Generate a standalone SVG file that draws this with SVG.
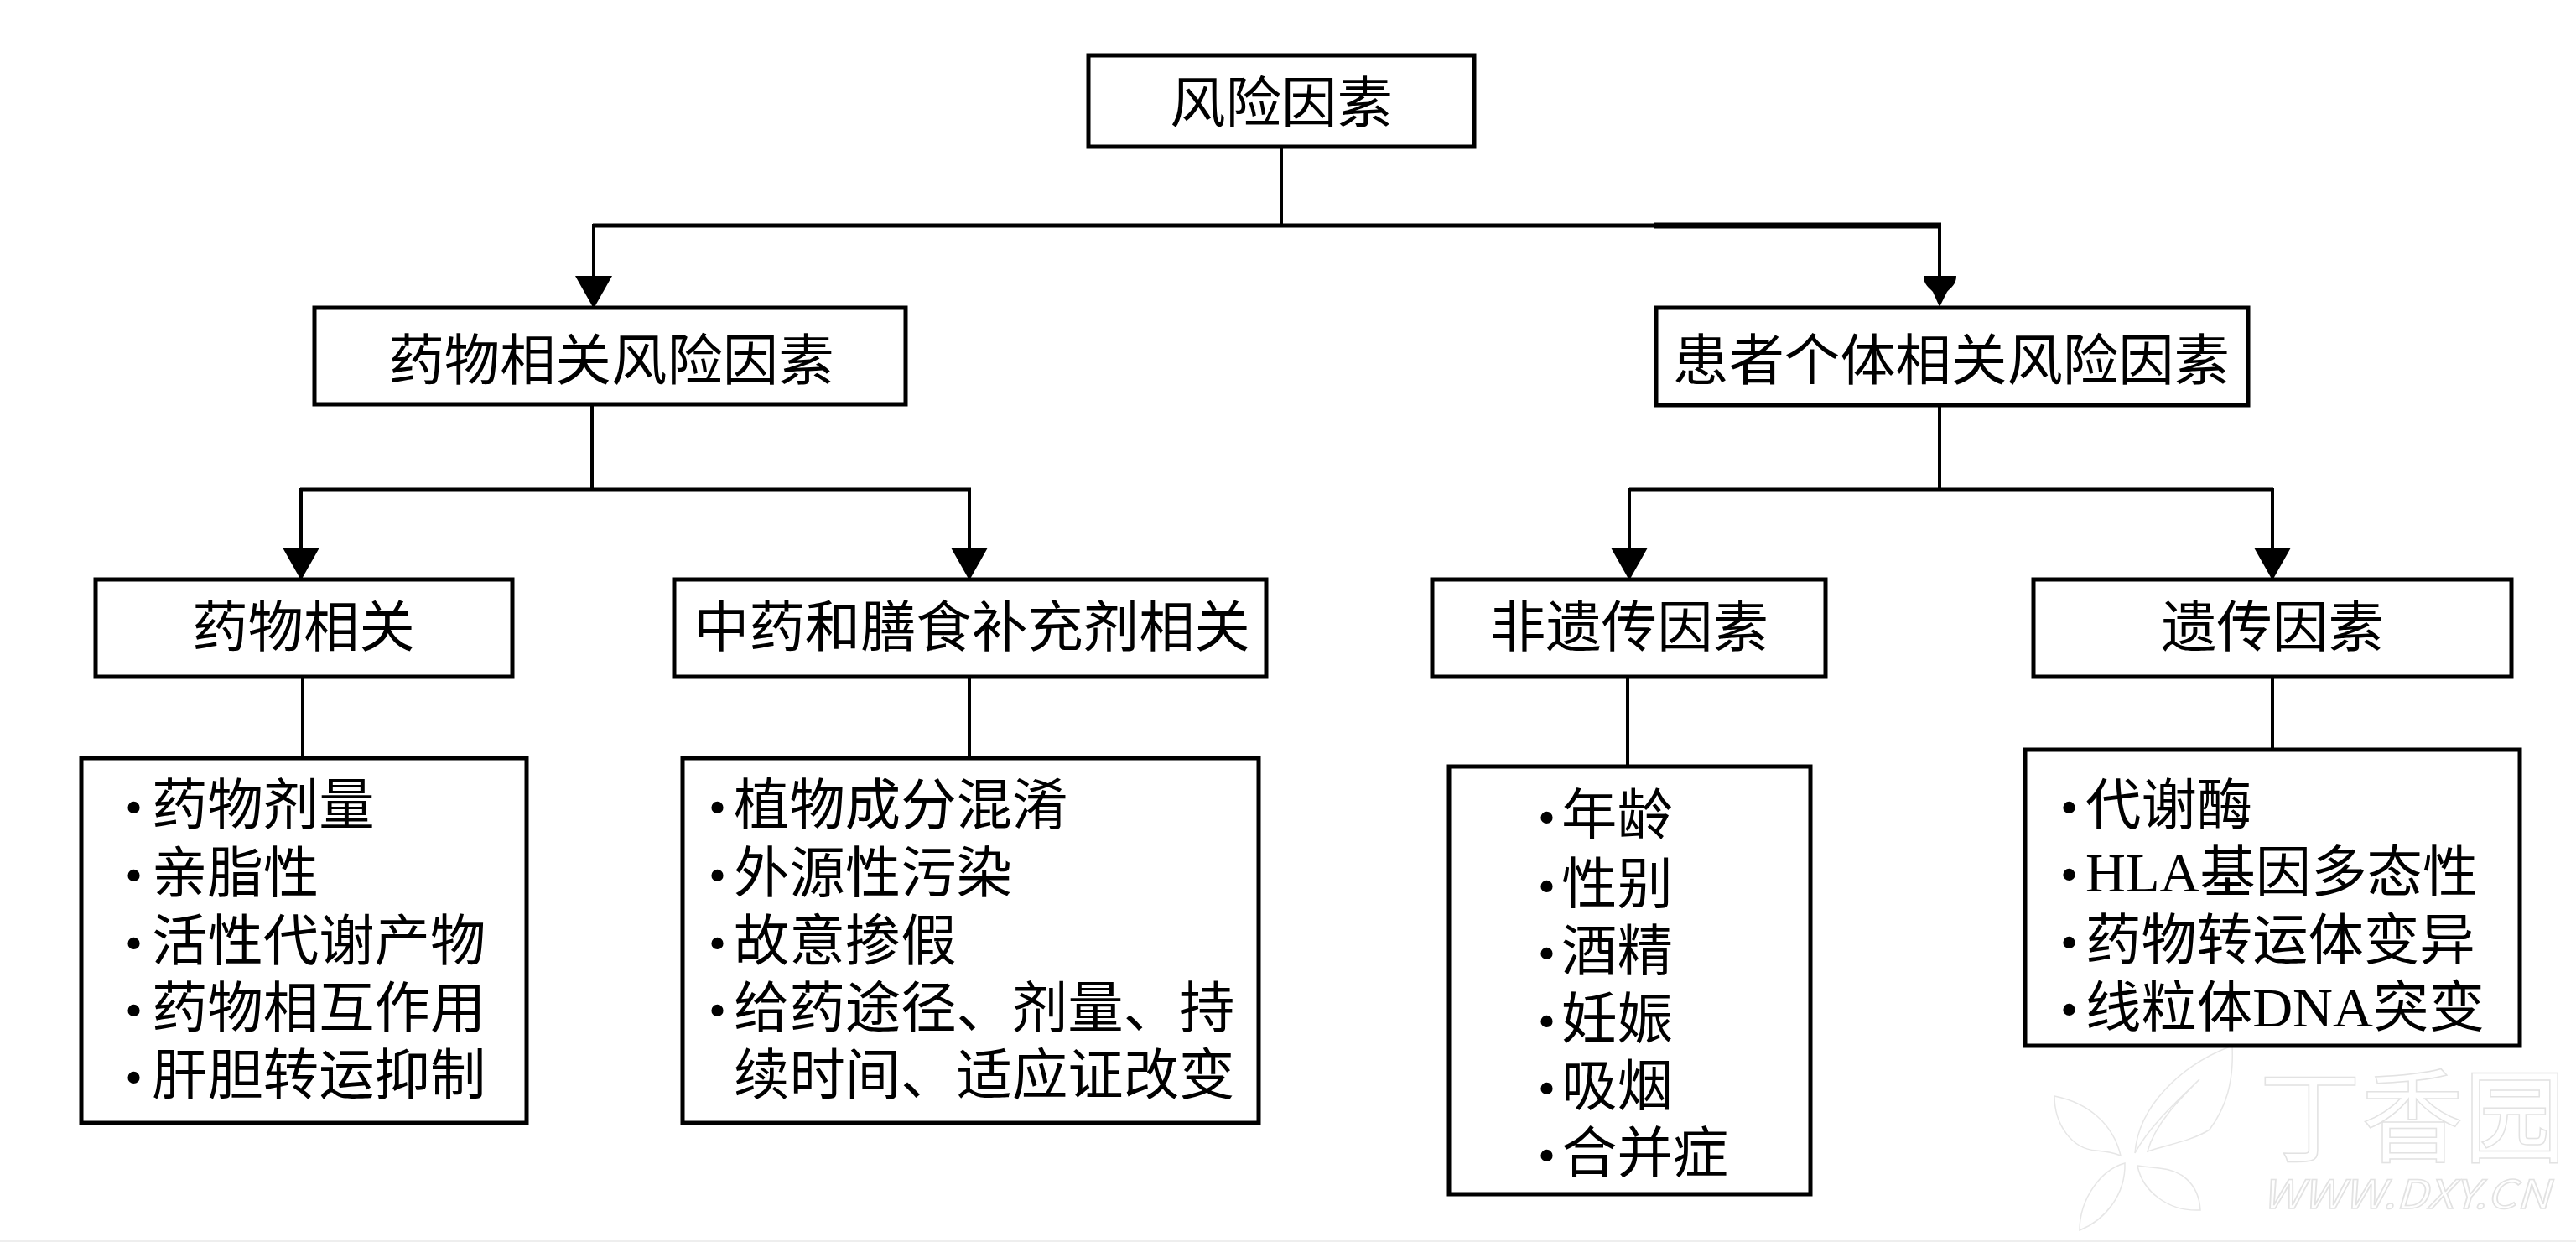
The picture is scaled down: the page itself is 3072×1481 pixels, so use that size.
<svg xmlns="http://www.w3.org/2000/svg" width="3072" height="1481" viewBox="0 0 3072 1481">
<style>
.box{fill:#fff;stroke:#000;stroke-width:5}
.t{font-family:"Liberation Serif","Noto Sans CJK SC",serif;font-size:66.4px;fill:#000;font-weight:400}
.b{font-size:60px}
.c{text-anchor:middle}
.l{fill:none;stroke:#000;stroke-width:4}
.h{fill:none;stroke:#000;stroke-width:5}
.wm{fill:none;stroke:#e6e6e6;stroke-width:1.5}
.wt{font-family:"Noto Sans CJK SC",sans-serif;fill:#fff;stroke:#e2e2e2;stroke-width:1.5}
</style>
<defs>
<marker id="arrow" markerUnits="userSpaceOnUse" markerWidth="40" markerHeight="46" refX="37" refY="23" orient="auto">
<path d="M0,1 L39,23 L0,45 Z" fill="#000"/>
</marker>
</defs>
<rect width="3072" height="1481" fill="#fff"/>
<rect y="1479" width="3072" height="2" fill="#eee"/>
<g id="watermark">
<path class="wm" d="M2546,1375 C2550,1320 2600,1270 2662,1247 C2664,1290 2655,1320 2635,1347 C2615,1360 2585,1365 2561,1373 C2570,1340 2600,1310 2623,1287 C2600,1310 2565,1340 2546,1375 Z"/>
<path class="wm" d="M2529,1378 C2520,1340 2490,1315 2450,1307 C2450,1340 2470,1370 2500,1372 C2512,1373 2522,1375 2529,1378 Z"/>
<path class="wm" d="M2534,1387 C2505,1395 2480,1430 2480,1467 C2510,1455 2535,1425 2534,1387 Z"/>
<path class="wm" d="M2549,1390 C2555,1420 2585,1445 2624,1443 C2622,1410 2600,1395 2575,1393 C2565,1392 2555,1391 2549,1390 Z"/>
<text class="wt" x="2694" y="1376" font-size="122" font-weight="400">丁香园</text>
<text class="wt" x="2697" y="1441" font-size="47" font-style="italic" font-weight="400" textLength="344" lengthAdjust="spacingAndGlyphs">WWW.DXY.CN</text>
</g>
<g id="connectors">
<path class="l" d="M1528,174 V269"/>
<path class="h" d="M707,269 H1973"/>
<path d="M1973,269 H2315" fill="none" stroke="#000" stroke-width="7"/>
<path class="l" d="M708,267 V366" marker-end="url(#arrow)"/>
<path class="l" d="M2313,269 V340"/>
<path d="M2294,329 L2333,329 C2333,340 2326,343 2322,348 L2313,366 L2305,348 C2301,343 2294,340 2294,329 Z" fill="#000"/>
<path class="l" d="M706,482 V584"/>
<path class="h" d="M358,584 H1158"/>
<path class="l" d="M359,582 V690" marker-end="url(#arrow)"/>
<path class="l" d="M1156,582 V690" marker-end="url(#arrow)"/>
<path class="l" d="M2313,482 V584"/>
<path class="h" d="M1943,584 H2711"/>
<path class="l" d="M1943,582 V690" marker-end="url(#arrow)"/>
<path class="l" d="M2710,582 V690" marker-end="url(#arrow)"/>
<path class="l" d="M361,807 V903"/>
<path class="l" d="M1156,807 V903"/>
<path class="l" d="M1941,807 V913"/>
<path class="l" d="M2710,807 V893"/>
</g>
<g id="root"><rect class="box" x="1298" y="66" width="460" height="109"/><text class="t c" x="1528" y="146">风险因素</text></g>
<g id="drug-risk"><rect class="box" x="375" y="367" width="705" height="115"/><text class="t c" x="729" y="453">药物相关风险因素</text></g>
<g id="patient-risk"><rect class="box" x="1975" y="367" width="706" height="116"/><text class="t c" x="2327" y="453">患者个体相关风险因素</text></g>
<g id="drug"><rect class="box" x="114" y="691" width="497" height="116"/><text class="t c" x="362" y="771">药物相关</text></g>
<g id="herbal"><rect class="box" x="804" y="691" width="706" height="116"/><text class="t c" x="1159" y="771">中药和膳食补充剂相关</text></g>
<g id="nongenetic"><rect class="box" x="1708" y="691" width="469" height="116"/><text class="t c" x="1943" y="771">非遗传因素</text></g>
<g id="genetic"><rect class="box" x="2425" y="691" width="570" height="116"/><text class="t c" x="2710" y="771">遗传因素</text></g>
<g id="drug-list"><rect class="box" x="97" y="904" width="531" height="435"/>
<text class="t" y="983"><tspan class="b" x="149">•</tspan><tspan x="181">药物剂量</tspan></text>
<text class="t" y="1064"><tspan class="b" x="149">•</tspan><tspan x="181">亲脂性</tspan></text>
<text class="t" y="1145"><tspan class="b" x="149">•</tspan><tspan x="181">活性代谢产物</tspan></text>
<text class="t" y="1225"><tspan class="b" x="149">•</tspan><tspan x="181">药物相互作用</tspan></text>
<text class="t" y="1305"><tspan class="b" x="149">•</tspan><tspan x="181">肝胆转运抑制</tspan></text>
</g>
<g id="herbal-list"><rect class="box" x="814" y="904" width="687" height="435"/>
<text class="t" y="983"><tspan class="b" x="845">•</tspan><tspan x="875">植物成分混淆</tspan></text>
<text class="t" y="1064"><tspan class="b" x="845">•</tspan><tspan x="875">外源性污染</tspan></text>
<text class="t" y="1145"><tspan class="b" x="845">•</tspan><tspan x="875">故意掺假</tspan></text>
<text class="t" y="1225"><tspan class="b" x="845">•</tspan><tspan x="875">给药途径、剂量、持</tspan></text>
<text class="t" x="875" y="1305">续时间、适应证改变</text>
</g>
<g id="nongenetic-list"><rect class="box" x="1728" y="914" width="431" height="510"/>
<text class="t" y="995"><tspan class="b" x="1834">•</tspan><tspan x="1862">年龄</tspan></text>
<text class="t" y="1077"><tspan class="b" x="1834">•</tspan><tspan x="1862">性别</tspan></text>
<text class="t" y="1157"><tspan class="b" x="1834">•</tspan><tspan x="1862">酒精</tspan></text>
<text class="t" y="1238"><tspan class="b" x="1834">•</tspan><tspan x="1862">妊娠</tspan></text>
<text class="t" y="1318"><tspan class="b" x="1834">•</tspan><tspan x="1862">吸烟</tspan></text>
<text class="t" y="1398"><tspan class="b" x="1834">•</tspan><tspan x="1862">合并症</tspan></text>
</g>
<g id="genetic-list"><rect class="box" x="2415" y="894" width="590" height="353"/>
<text class="t" y="983"><tspan class="b" x="2457">•</tspan><tspan x="2487">代谢酶</tspan></text>
<text class="t" y="1063"><tspan class="b" x="2457">•</tspan><tspan x="2487">HLA基因多态性</tspan></text>
<text class="t" y="1144"><tspan class="b" x="2457">•</tspan><tspan x="2487">药物转运体变异</tspan></text>
<text class="t" y="1224"><tspan class="b" x="2457">•</tspan><tspan x="2487">线粒体DNA突变</tspan></text>
</g>
</svg>
